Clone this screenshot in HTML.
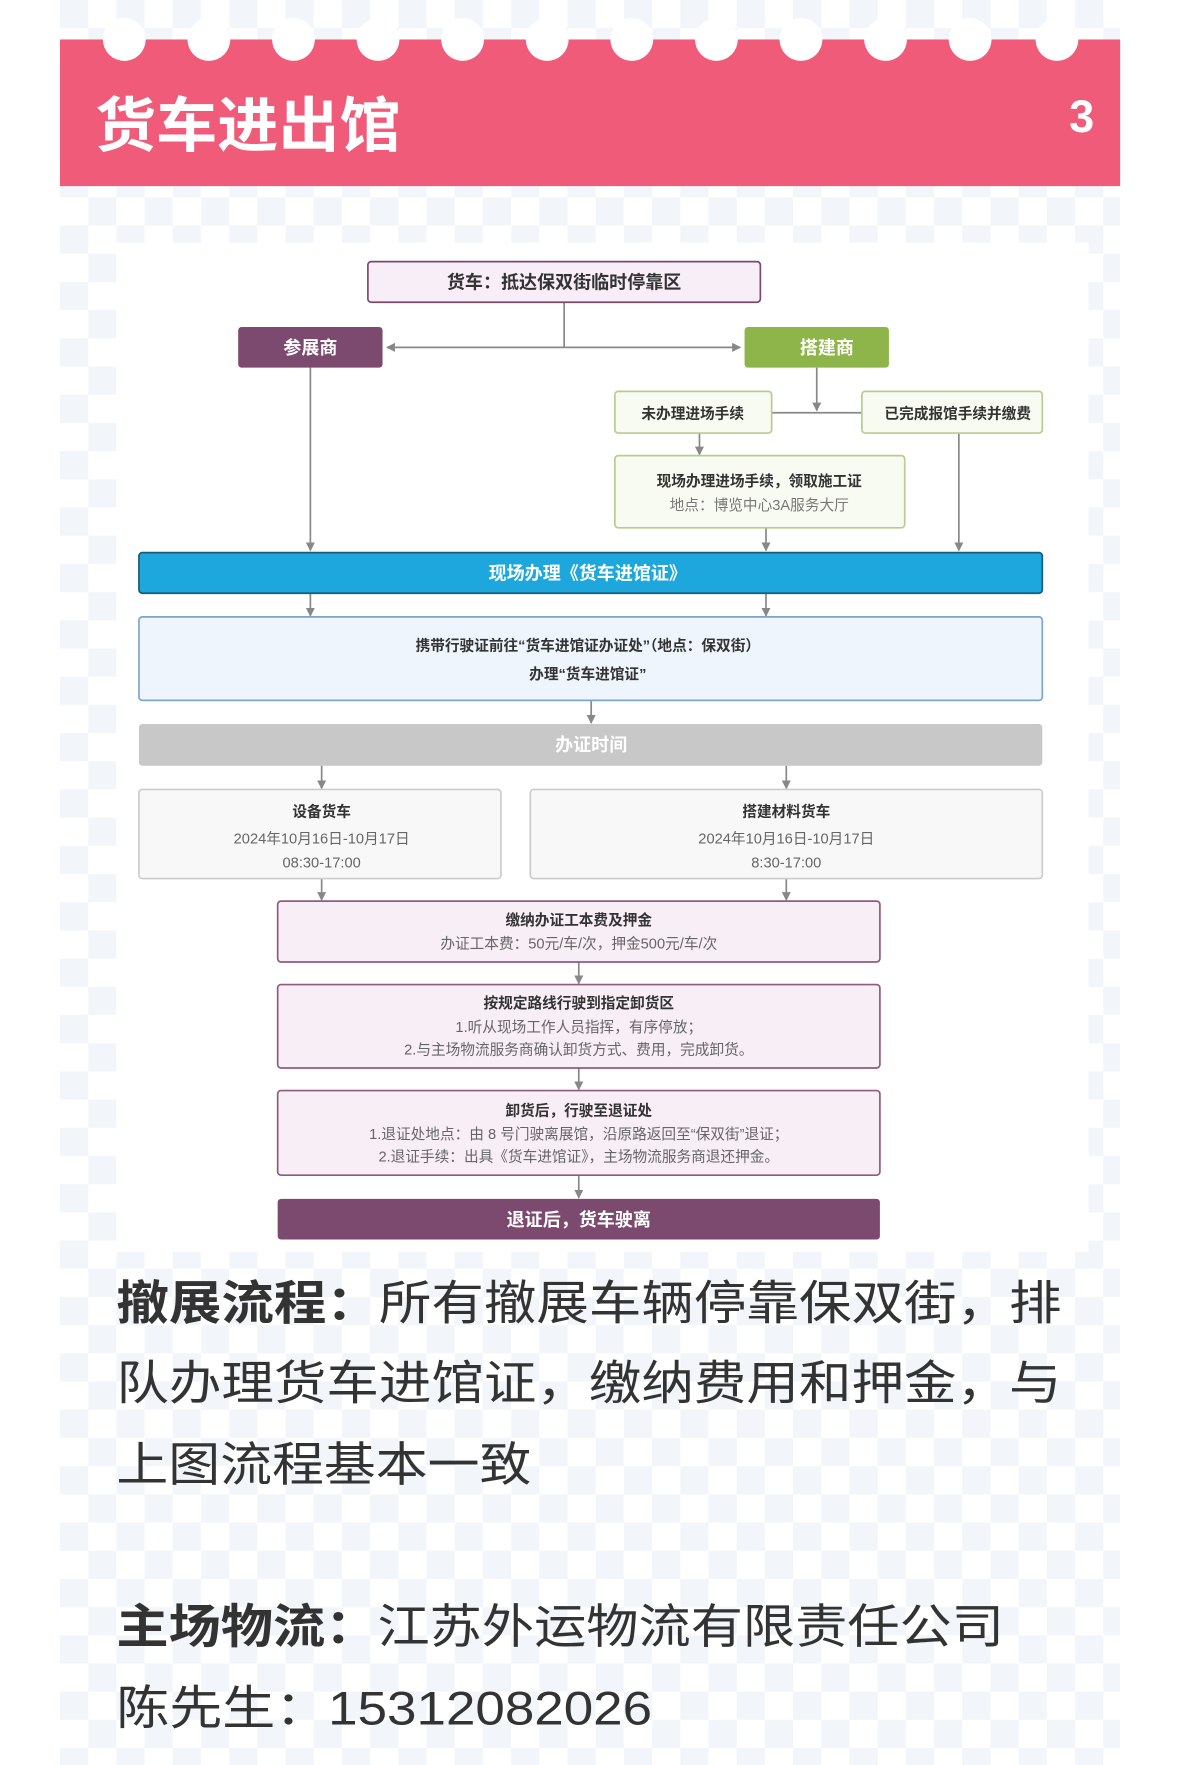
<!DOCTYPE html>
<html><head><meta charset="utf-8"><style>
html,body{margin:0;padding:0;background:#fff;}
svg{display:block}
text{font-family:"Liberation Sans","Noto Sans CJK SC",sans-serif;}
</style></head><body>
<svg width="1179" height="1765" viewBox="0 0 1045 1565" xmlns="http://www.w3.org/2000/svg">
<defs>
<pattern id="ck" x="53" y="0" width="50" height="50" patternUnits="userSpaceOnUse">
<rect width="50" height="50" fill="#fff"/>
<rect width="25" height="25" fill="#f2f6fb"/>
<rect x="25" y="25" width="25" height="25" fill="#f2f6fb"/>
</pattern>
<marker id="a" markerWidth="8" markerHeight="8" refX="7" refY="4" orient="auto" markerUnits="userSpaceOnUse">
<path d="M0,0 L8,4 L0,8 z" fill="#888"/></marker>
</defs>
<rect x="0" y="0" width="1045" height="1565" fill="#fff"/>
<rect x="53" y="0" width="940" height="1565" fill="url(#ck)"/>
<!-- header -->
<rect x="53" y="35" width="940" height="130" fill="#ef5b78"/>
<g fill="#fff">
<circle cx="110" cy="35" r="19"/><circle cx="185" cy="35" r="19"/><circle cx="260" cy="35" r="19"/>
<circle cx="335" cy="35" r="19"/><circle cx="410" cy="35" r="19"/><circle cx="485" cy="35" r="19"/>
<circle cx="560" cy="35" r="19"/><circle cx="635" cy="35" r="19"/><circle cx="710" cy="35" r="19"/>
<circle cx="785" cy="35" r="19"/><circle cx="860" cy="35" r="19"/><circle cx="937" cy="35" r="19"/>
</g>
<text x="84" y="130" font-size="53" font-weight="bold" fill="#fff" textLength="271" lengthAdjust="spacingAndGlyphs">货车进出馆</text>
<text x="970" y="117" font-size="40" font-weight="bold" fill="#fff" text-anchor="end">3</text>
<!-- diagram bg -->
<rect x="103" y="215" width="862" height="895" fill="#fff"/>
<g stroke="#888" stroke-width="1.5" fill="none">
<line x1="500" y1="268" x2="500" y2="308"/>
<line x1="500" y1="308" x2="343" y2="308" marker-end="url(#a)"/>
<line x1="500" y1="308" x2="656" y2="308" marker-end="url(#a)"/>
<line x1="724" y1="326" x2="724" y2="364" marker-end="url(#a)"/>
<line x1="684" y1="366" x2="764" y2="366"/>
<line x1="620" y1="384" x2="620" y2="403" marker-end="url(#a)"/>
<line x1="275" y1="326" x2="275" y2="488" marker-end="url(#a)"/>
<line x1="679" y1="468" x2="679" y2="488" marker-end="url(#a)"/>
<line x1="850" y1="384" x2="850" y2="488" marker-end="url(#a)"/>
<line x1="275" y1="526" x2="275" y2="546" marker-end="url(#a)"/>
<line x1="679" y1="526" x2="679" y2="546" marker-end="url(#a)"/>
<line x1="524" y1="621" x2="524" y2="641" marker-end="url(#a)"/>
<line x1="285" y1="679" x2="285" y2="699" marker-end="url(#a)"/>
<line x1="697" y1="679" x2="697" y2="699" marker-end="url(#a)"/>
<line x1="285" y1="779" x2="285" y2="798" marker-end="url(#a)"/>
<line x1="697" y1="779" x2="697" y2="798" marker-end="url(#a)"/>
<line x1="513" y1="853" x2="513" y2="872" marker-end="url(#a)"/>
<line x1="513" y1="947" x2="513" y2="966" marker-end="url(#a)"/>
<line x1="513" y1="1042" x2="513" y2="1062" marker-end="url(#a)"/>
</g>
<rect x="326" y="232" width="348" height="36" rx="3" fill="#f8eef7" stroke="#7a4a6e" stroke-width="1.5"/>
<text x="500" y="256" font-size="16" font-weight="bold" text-anchor="middle" fill="#333">货车：抵达保双街临时停靠区</text>
<rect x="211" y="290" width="128" height="36" rx="3" fill="#7b4a6e"/>
<text x="275" y="314" font-size="16" font-weight="bold" text-anchor="middle" fill="#fff">参展商</text>
<rect x="660" y="290" width="128" height="36" rx="3" fill="#8db54a"/>
<text x="733" y="314" font-size="16" font-weight="bold" text-anchor="middle" fill="#fff">搭建商</text>
<rect x="545" y="347" width="139" height="37" rx="3" fill="#f8fbf1" stroke="#b9cc8e" stroke-width="1.5"/>
<text x="614" y="371" font-size="13" font-weight="bold" text-anchor="middle" fill="#333">未办理进场手续</text>
<rect x="764" y="347" width="160" height="37" rx="3" fill="#f8fbf1" stroke="#b9cc8e" stroke-width="1.5"/>
<text x="849" y="371" font-size="13" font-weight="bold" text-anchor="middle" fill="#333">已完成报馆手续并缴费</text>
<rect x="545" y="404" width="257" height="64" rx="3" fill="#f8fbf1" stroke="#b9cc8e" stroke-width="1.5"/>
<text x="673" y="431" font-size="13" font-weight="bold" text-anchor="middle" fill="#333">现场办理进场手续，领取施工证</text>
<text x="673" y="452" font-size="13" text-anchor="middle" fill="#777">地点：博览中心3A服务大厅</text>
<rect x="123" y="490" width="801" height="36" rx="3" fill="#1ea7dc" stroke="#1a5a7a" stroke-width="1.5"/>
<text x="521" y="514" font-size="16" font-weight="bold" text-anchor="middle" fill="#fff">现场办理《货车进馆证》</text>
<rect x="123" y="547" width="801" height="74" rx="3" fill="#eef5fd" stroke="#7ea5cf" stroke-width="1.5"/>
<text x="521" y="577" font-size="13" font-weight="bold" text-anchor="middle" fill="#333">携带行驶证前往“货车进馆证办证处”（地点：保双街）</text>
<text x="521" y="602" font-size="13" font-weight="bold" text-anchor="middle" fill="#333">办理“货车进馆证”</text>
<rect x="123" y="642" width="801" height="37" rx="3" fill="#c8c8c8"/>
<text x="524" y="666" font-size="16" font-weight="bold" text-anchor="middle" fill="#fff">办证时间</text>
<rect x="123" y="700" width="321" height="79" rx="3" fill="#f8f8f8" stroke="#ccc" stroke-width="1.5"/>
<text x="285" y="724" font-size="13" font-weight="bold" text-anchor="middle" fill="#333">设备货车</text>
<text x="285" y="748" font-size="13" text-anchor="middle" fill="#666">2024年10月16日-10月17日</text>
<text x="285" y="769" font-size="13" text-anchor="middle" fill="#666">08:30-17:00</text>
<rect x="470" y="700" width="454" height="79" rx="3" fill="#f8f8f8" stroke="#ccc" stroke-width="1.5"/>
<text x="697" y="724" font-size="13" font-weight="bold" text-anchor="middle" fill="#333">搭建材料货车</text>
<text x="697" y="748" font-size="13" text-anchor="middle" fill="#666">2024年10月16日-10月17日</text>
<text x="697" y="769" font-size="13" text-anchor="middle" fill="#666">8:30-17:00</text>
<rect x="246" y="799" width="534" height="54" rx="3" fill="#f8eef6" stroke="#8e5b82" stroke-width="1.5"/>
<text x="513" y="820" font-size="13" font-weight="bold" text-anchor="middle" fill="#333">缴纳办证工本费及押金</text>
<text x="513" y="841" font-size="13" text-anchor="middle" fill="#666">办证工本费：50元/车/次，押金500元/车/次</text>
<rect x="246" y="873" width="534" height="74" rx="3" fill="#f8eef6" stroke="#8e5b82" stroke-width="1.5"/>
<text x="513" y="894" font-size="13" font-weight="bold" text-anchor="middle" fill="#333">按规定路线行驶到指定卸货区</text>
<text x="513" y="915" font-size="13" text-anchor="middle" fill="#666">1.听从现场工作人员指挥，有序停放；</text>
<text x="513" y="935" font-size="13" text-anchor="middle" fill="#666">2.与主场物流服务商确认卸货方式、费用，完成卸货。</text>
<rect x="246" y="967" width="534" height="75" rx="3" fill="#f8eef6" stroke="#8e5b82" stroke-width="1.5"/>
<text x="513" y="989" font-size="13" font-weight="bold" text-anchor="middle" fill="#333">卸货后，行驶至退证处</text>
<text x="513" y="1010" font-size="13" text-anchor="middle" fill="#666">1.退证处地点：由 8 号门驶离展馆，沿原路返回至“保双街”退证；</text>
<text x="513" y="1030" font-size="13" text-anchor="middle" fill="#666">2.退证手续：出具《货车进馆证》，主场物流服务商退还押金。</text>
<rect x="246" y="1063" width="534" height="36" rx="3" fill="#7b4a6e"/>
<text x="513" y="1087" font-size="16" font-weight="bold" text-anchor="middle" fill="#fff">退证后，货车驶离</text>
<!-- paragraphs -->
<g font-size="42" fill="#333">
<text x="103" y="1170" textLength="838" lengthAdjust="spacingAndGlyphs"><tspan font-weight="bold">撤展流程：</tspan>所有撤展车辆停靠保双街，排</text>
<text x="103" y="1241" textLength="838" lengthAdjust="spacingAndGlyphs">队办理货车进馆证，缴纳费用和押金，与</text>
<text x="103" y="1313" textLength="368" lengthAdjust="spacingAndGlyphs">上图流程基本一致</text>
<text x="103" y="1457" textLength="787" lengthAdjust="spacingAndGlyphs"><tspan font-weight="bold">主场物流：</tspan>江苏外运物流有限责任公司</text>
<text x="103" y="1529" textLength="475" lengthAdjust="spacingAndGlyphs">陈先生：15312082026</text>
</g>
</svg>
</body></html>
